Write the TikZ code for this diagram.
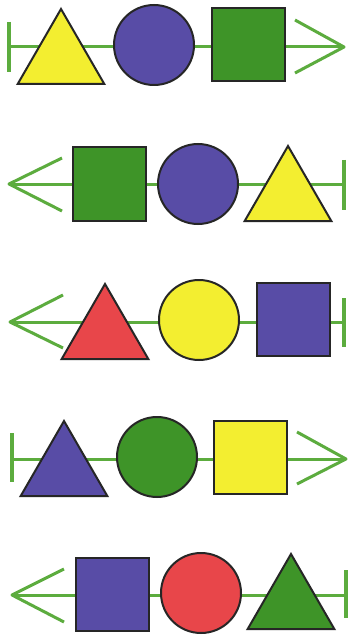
\documentclass[tikz,border=0pt]{standalone}
\usetikzlibrary{shapes.geometric}
\definecolor{cyel}{RGB}{243,238,48}
\definecolor{cpur}{RGB}{88,76,166}
\definecolor{cgrn}{RGB}{62,148,40}
\definecolor{cred}{RGB}{232,70,74}
\definecolor{lgrn}{RGB}{92,172,62}
\tikzset{
 conn/.style={draw=lgrn, line width=3pt, line join=round},
 barline/.style={draw=lgrn, line width=4pt},
 shp/.style={draw=black!85, line width=2pt, inner sep=0pt, outer sep=0pt},
 tri/.style={shp, regular polygon, regular polygon sides=3, minimum size=100pt},
 circ/.style={shp, circle, minimum size=80pt},
 sq/.style={shp, rectangle, minimum size=73pt},
}
\begin{document}
\begin{tikzpicture}[x=1pt,y=-1pt]
\useasboundingbox[fill=white] (0,0) rectangle (348,639);
% Row 1
\coordinate (b1) at (9,47); \coordinate (b1t) at (9,22); \coordinate (b1b) at (9,72);
\coordinate (t1) at (344,47); \coordinate (t1u) at (295,20); \coordinate (t1d) at (295,73);
\draw[barline] (b1t) -- (b1b);
\draw[conn] (b1) -- (t1);
\draw[conn] (t1u) -- (t1) -- (t1d);
\node[tri, fill=cyel] (r1a) at (61,59) {};
\node[circ, fill=cpur] (r1b) at (154,45) {};
\node[sq, fill=cgrn] (r1c) at (248,45) {};
% Row 2
\coordinate (b2) at (344,184); \coordinate (b2t) at (344,160); \coordinate (b2b) at (344,210);
\coordinate (t2) at (9,184); \coordinate (t2u) at (62,158); \coordinate (t2d) at (62,211);
\draw[barline] (b2t) -- (b2b);
\draw[conn] (b2) -- (t2);
\draw[conn] (t2u) -- (t2) -- (t2d);
\node[sq, fill=cgrn] (r2a) at (109,184) {};
\node[circ, fill=cpur] (r2b) at (198,184) {};
\node[tri, fill=cyel] (r2c) at (288,196) {};
% Row 3
\coordinate (b3) at (344,322); \coordinate (b3t) at (344,298); \coordinate (b3b) at (344,347);
\coordinate (t3) at (10,322); \coordinate (t3u) at (63,295); \coordinate (t3d) at (63,348);
\draw[barline] (b3t) -- (b3b);
\draw[conn] (b3) -- (t3);
\draw[conn] (t3u) -- (t3) -- (t3d);
\node[tri, fill=cred] (r3a) at (105,334) {};
\node[circ, fill=cyel] (r3b) at (199,320) {};
\node[sq, fill=cpur] (r3c) at (293.5,319.5) {};
% Row 4
\coordinate (b4) at (12,459); \coordinate (b4t) at (12,433); \coordinate (b4b) at (12,482);
\coordinate (t4) at (346,459); \coordinate (t4u) at (297,432); \coordinate (t4d) at (297,484);
\draw[barline] (b4t) -- (b4b);
\draw[conn] (b4) -- (t4);
\draw[conn] (t4u) -- (t4) -- (t4d);
\node[tri, fill=cpur] (r4a) at (64,471) {};
\node[circ, fill=cgrn] (r4b) at (157,457) {};
\node[sq, fill=cyel] (r4c) at (250,457) {};
% Row 5
\coordinate (b5) at (346,595); \coordinate (b5t) at (346,570); \coordinate (b5b) at (346,618);
\coordinate (t5) at (12,595); \coordinate (t5u) at (64,569); \coordinate (t5d) at (64,622);
\draw[barline] (b5t) -- (b5b);
\draw[conn] (b5) -- (t5);
\draw[conn] (t5u) -- (t5) -- (t5d);
\node[sq, fill=cpur] (r5a) at (112,594.5) {};
\node[circ, fill=cred] (r5b) at (201,593) {};
\node[tri, fill=cgrn] (r5c) at (291,604) {};
\end{tikzpicture}
\end{document}
